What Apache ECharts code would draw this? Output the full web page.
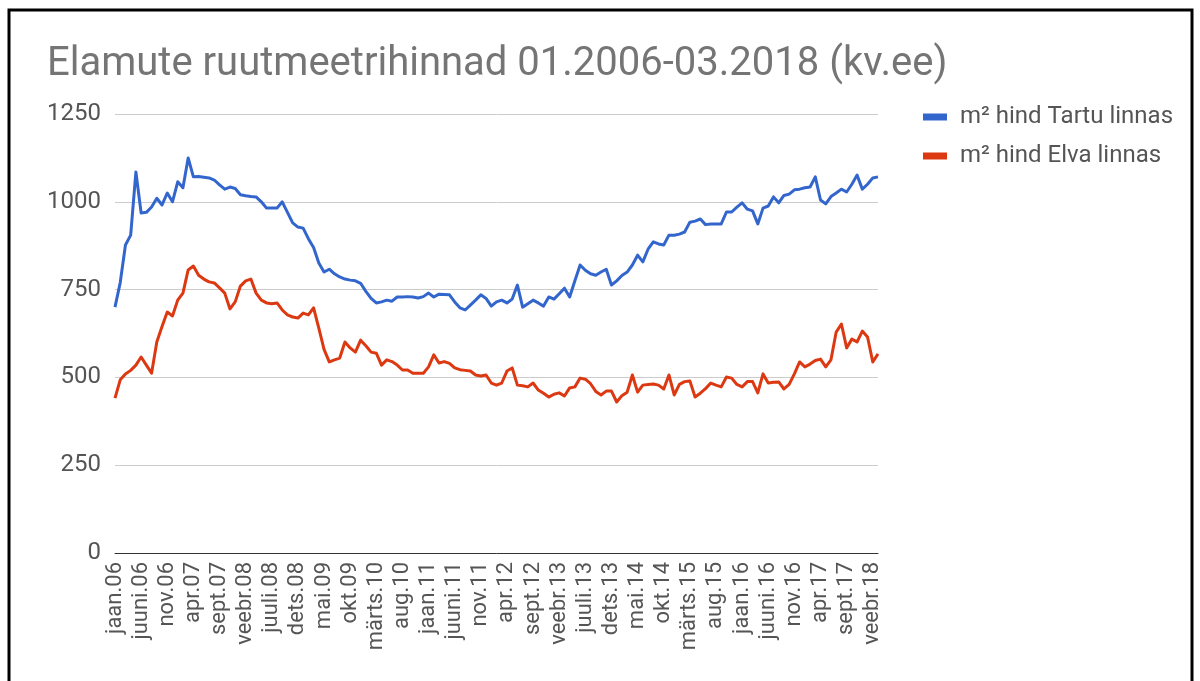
<!DOCTYPE html>
<html><head><meta charset="utf-8">
<script src="https://cdn.jsdelivr.net/npm/echarts@6/dist/echarts.min.js"></script>
<style>html,body{margin:0;padding:0;background:#fff;}#c{width:1200px;height:681px;}</style>
</head><body><div id="c"></div>
<script>
const monthNames = ['jaan','veebr','märts','apr','mai','juuni','juuli','aug','sept','okt','nov','dets'];
const startYear = 2006, monthCount = 147;
const categories = [];
for (let i = 0; i < monthCount; i++) {
  const y = startYear + Math.floor(i / 12);
  categories.push(monthNames[i % 12] + '.' + String(y % 100).padStart(2, '0'));
}
const seriesNames = ['m² hind Tartu linnas', 'm² hind Elva linnas'];
const tartu = [700,770,877,905,1085,968,970,985,1010,991,1025,1000,1057,1040,1125,1071,1072,1070,1068,1062,
1048,1036,1042,1038,1020,1017,1015,1014,1000,982,982,982,1000,970,940,928,925,895,870,826,
800,808,795,786,780,777,775,768,745,725,712,715,720,717,729,729,730,729,726,730,
740,729,737,736,735,715,698,692,706,720,735,725,703,715,720,712,723,763,700,710,
720,712,703,729,723,738,754,729,775,820,805,795,791,800,808,763,775,790,800,820,
848,829,865,886,880,877,905,905,908,914,942,945,951,935,937,937,937,971,971,985,
997,979,974,937,982,988,1014,997,1018,1022,1034,1036,1040,1042,1071,1005,994,1015,1025,1036,
1028,1050,1076,1036,1050,1068,1071];
const elva = [441,493,510,520,535,558,535,512,601,645,686,675,720,740,806,817,791,780,772,769,
755,740,695,715,760,775,780,740,720,712,710,712,692,678,672,669,683,678,698,640,
580,544,550,555,601,584,572,606,590,572,569,535,550,545,535,521,521,512,512,512,
530,564,541,545,540,527,522,520,518,507,504,507,484,478,484,518,527,478,476,473,
484,464,455,444,452,456,447,470,473,498,495,482,460,450,461,461,430,448,458,507,
458,478,480,481,478,467,507,450,480,488,490,444,455,468,484,478,473,501,498,480,
473,488,488,456,510,484,486,487,467,480,510,544,530,538,548,552,530,550,629,652,
584,609,601,632,615,544,567];
const yTicks = {min: 0, max: 1250, interval: 250};
const colors = ['#3366cc', '#dc3912'];
const FONT = 'Roboto, "Noto Sans", sans-serif';

const chart = echarts.init(document.getElementById('c'), null, {renderer: 'canvas'});
chart.setOption({
  animation: false,
  backgroundColor: '#fff',
  title: {
    text: 'Elamute ruutmeetrihinnad 01.2006-03.2018 (kv.ee)',
    left: 42, top: 40,
    textStyle: {fontFamily: FONT, fontSize: 40, fontWeight: 'normal', color: '#757575'}
  },
  legend: {
    orient: 'vertical', left: 918, top: 100, itemGap: 15,
    icon: 'rect', itemWidth: 24, itemHeight: 7,
    textStyle: {fontFamily: FONT, fontSize: 24, color: '#555', padding: [0,0,0,8]},
    data: seriesNames
  },
  grid: {left: 115, right: 322, top: 114, bottom: 128, containLabel: false},
  xAxis: {
    type: 'category', data: categories, boundaryGap: false,
    axisLine: {lineStyle: {color: '#333', width: 1}},
    axisTick: {show: false},
    axisLabel: {interval: 4, rotate: 90, fontFamily: FONT, fontSize: 22, color: '#555', margin: 9}
  },
  yAxis: {
    type: 'value', min: yTicks.min, max: yTicks.max, interval: yTicks.interval,
    axisLine: {show: false}, axisTick: {show: false},
    axisLabel: {fontFamily: FONT, fontSize: 24, color: '#555', margin: 14, formatter: v => String(v)},
    splitLine: {lineStyle: {color: '#cccccc', width: 1}}
  },
  series: [
    {name: seriesNames[0], type: 'line', data: tartu, symbol: 'none', color: colors[0], lineStyle: {width: 3, join: 'round'}},
    {name: seriesNames[1], type: 'line', data: elva, symbol: 'none', color: colors[1], lineStyle: {width: 3, join: 'round'}}
  ],
  graphic: [{
    type: 'rect', shape: {x: 9, y: 10, width: 1183, height: 700},
    style: {fill: 'none', stroke: '#000', lineWidth: 3}, silent: true
  }]
});
</script></body></html>
